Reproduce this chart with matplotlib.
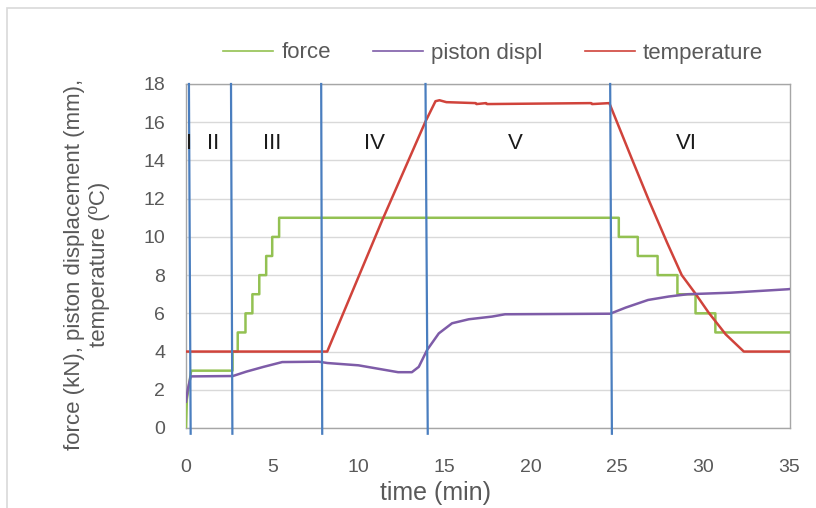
import matplotlib
matplotlib.use("Agg")
import matplotlib.pyplot as plt
from matplotlib.patches import Rectangle

# ---------------- data ----------------
force_t = [0.0, 0.0, 0.05, 0.3, 2.7, 2.7, 3.0, 3.0, 3.45, 3.45, 3.85, 3.85, 4.25, 4.25,
           4.65, 4.65, 5.0, 5.0, 5.4, 5.4, 25.1, 25.1, 26.2, 26.2, 27.35, 27.35,
           28.5, 28.5, 29.55, 29.55, 30.7, 30.7, 35.0]
force_v = [0.0, 0.0, 1.5, 3.0, 3.0, 4.0, 4.0, 5.0, 5.0, 6.0, 6.0, 7.0, 7.0, 8.0,
           8.0, 9.0, 9.0, 10.0, 10.0, 11.0, 11.0, 10.0, 10.0, 9.0, 9.0, 8.0,
           8.0, 7.0, 7.0, 6.0, 6.0, 5.0, 5.0]

piston_t = [0.0, 0.1, 0.27, 2.72, 3.5, 4.5, 5.58, 7.7, 8.2, 10.0, 12.3, 13.1, 13.5,
            13.98, 14.66, 15.43, 16.4, 17.75, 18.5, 24.6, 25.5, 26.8, 28.0, 29.1,
            31.6, 34.9, 35.0]
piston_v = [1.38, 2.0, 2.7, 2.72, 2.95, 3.2, 3.45, 3.47, 3.4, 3.28, 2.92, 2.92, 3.2,
            4.08, 4.95, 5.48, 5.69, 5.83, 5.95, 5.98, 6.3, 6.7, 6.88, 7.0,
            7.08, 7.26, 7.27]

temp_t = [0.0, 8.19, 11.37, 13.89, 14.47, 14.7, 15.1, 16.8, 16.85, 17.4, 17.45,
          23.5, 23.55, 24.55, 25.85, 26.85, 27.9, 28.75, 29.53, 30.3, 31.3, 32.35, 35.0]
temp_v = [4.0, 4.0, 10.85, 16.04, 17.1, 17.15, 17.05, 17.0, 16.95, 17.0, 16.95,
          17.0, 16.95, 17.0, 14.1, 11.9, 9.7, 8.0, 7.05, 6.05, 4.9, 4.0, 4.0]

# phase boundaries (top, bottom) in minutes
phase_top = [0.17, 2.61, 7.84, 13.89, 24.6]
phase_bot = [0.27, 2.69, 7.90, 14.02, 24.7]

phase_labels = ["I", "II", "III", "IV", "V", "VI"]
phase_label_x = [0.17, 1.57, 4.99, 10.93, 19.1, 29.0]

x_ticks = [0, 5, 10, 15, 20, 25, 30, 35]
y_ticks = [0, 2, 4, 6, 8, 10, 12, 14, 16, 18]

# ---------------- style ----------------
C_FORCE = "#93c152"
C_PISTON = "#7e5ca8"
C_TEMP = "#d0433b"
C_BLUE = "#4a7ebf"
C_TXT = "#595959"
FONT = ["Liberation Sans", "DejaVu Sans"]

W, H = 816, 508
fig = plt.figure(figsize=(W / 100, H / 100), dpi=100)
fig.patch.set_facecolor("white")
# outer chart border
fig.add_artist(Rectangle((7 / W, -0.1), 1.2, 1 - 8 / H + 0.1, transform=fig.transFigure,
                         fill=False, edgecolor="#d9d9d9", linewidth=1.2))

ax = fig.add_axes([186 / W, 1 - 428 / H, (789.5 - 186) / W, (428 - 84) / H])
ax.set_xlim(0, 35)
ax.set_ylim(0, 18)
ax.set_xticks(x_ticks)
ax.set_yticks(y_ticks)
ax.yaxis.grid(True, color="#d9d9d9", linewidth=1.0)
ax.set_axisbelow(True)
for s in ax.spines.values():
    s.set_color("#a6a6a6")
    s.set_linewidth(1.0)
ax.tick_params(axis="both", length=0, labelsize=14, labelcolor=C_TXT)
ax.tick_params(axis="y", pad=15)
ax.tick_params(axis="x", pad=22)
for lab in ax.get_xticklabels() + ax.get_yticklabels():
    lab.set_fontfamily(FONT)

l1, = ax.plot(force_t, force_v, color=C_FORCE, lw=1.8, label="force", zorder=3)
l2, = ax.plot(piston_t, piston_v, color=C_PISTON, lw=1.8, label="piston displ", zorder=4)
l3, = ax.plot(temp_t, temp_v, color=C_TEMP, lw=1.8, label="temperature", zorder=3)

for xt, xb in zip(phase_top, phase_bot):
    ax.plot([xt, xb], [18, -0.3], color=C_BLUE, lw=1.6, zorder=5, clip_on=False)

for lab, x in zip(phase_labels, phase_label_x):
    ax.text(x, 14.9, lab, ha="center", va="center", fontsize=16, color="#1a1a1a",
            family=FONT, zorder=6)

fig.text(435 / W, 1 - 493 / H, "time (min)", ha="center", va="center", fontsize=18,
         color=C_TXT, family=FONT)
fig.text(87 / W, 1 - 264 / H, "force (kN), piston displacement (mm),\ntemperature (ºC)",
         rotation=90, ha="center", va="center", multialignment="center",
         fontsize=16, color=C_TXT, family=FONT, linespacing=1.2)

leg = fig.legend(handles=[l1, l2, l3], loc="center", bbox_to_anchor=(493 / W, 1 - 53 / H),
                 ncol=3, frameon=False, handlelength=2.25, handletextpad=0.36,
                 columnspacing=1.9, prop={"family": FONT, "size": 16})
for t in leg.get_texts():
    t.set_color(C_TXT)
for h in leg.legend_handles:
    h.set_linewidth(1.2)

fig.savefig("out.png", dpi=100, facecolor="white")
